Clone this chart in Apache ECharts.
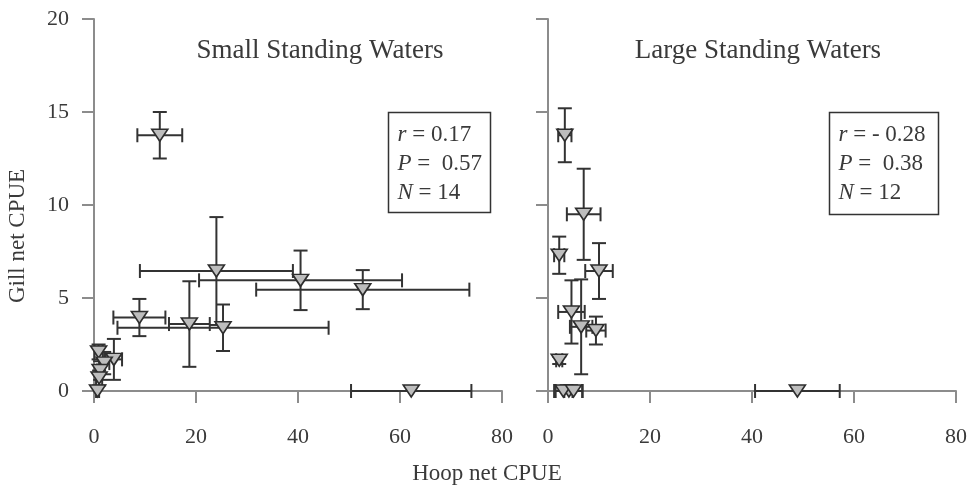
<!DOCTYPE html>
<html>
<head>
<meta charset="utf-8">
<script src="https://cdn.jsdelivr.net/npm/echarts@6/dist/echarts.min.js"></script>
<style>html,body{margin:0;padding:0;background:#fff}#c{width:971px;height:488px}</style>
</head>
<body>
<div id="c"></div>
<script>
// Small standing waters: hoop CPUE (x), gill CPUE (y), x error, y error
const smallX  = [12.9, 24.0, 40.5, 52.7, 8.9, 18.7, 25.3, 62.2, 0.9, 3.9, 2.0, 1.2, 1.0, 0.7];
const smallY  = [13.75, 6.45, 5.95, 5.45, 3.95, 3.6, 3.4, 0, 2.1, 1.7, 1.5, 1.1, 0.7, 0];
const smallXE = [4.4, 15.0, 19.9, 20.9, 5.1, 4.0, 20.7, 11.8, 0.8, 1.6, 1.0, 0.6, 0.6, 0.3];
const smallYE = [1.25, 2.9, 1.6, 1.05, 1.0, 2.3, 1.25, 0, 0.4, 1.1, 0.6, 0.5, 0.4, 0];
// Large standing waters
const largeX  = [3.3, 7.0, 2.2, 10.0, 4.6, 6.5, 9.4, 2.2, 4.1, 3.0, 5.0, 48.9];
const largeY  = [13.75, 9.5, 7.3, 6.45, 4.25, 3.45, 3.25, 1.65, 0, 0, 0, 0];
const largeXE = [1.3, 3.3, 1.0, 2.7, 2.6, 2.2, 1.9, 0.6, 2.6, 1.8, 1.8, 8.3];
const largeYE = [1.45, 2.45, 1.0, 1.5, 1.7, 2.55, 0.75, 0.2, 0, 0, 0, 0];
const xTicks = [0, 20, 40, 60, 80];
const yTicks = [0, 5, 10, 15, 20];
const panelTitles = ['Small Standing Waters', 'Large Standing Waters'];
const statsSmall = ['0.17', ' 0.57', '14'];
const statsLarge = ['- 0.28', ' 0.38', '12'];

const FONT = '"Liberation Serif", "DejaVu Serif", serif';
const TXT = '#3a3a3a';
const AX = '#8c8c8c';
const BAR = '#333333';

function rows(x, y, xe, ye) { return x.map((v, i) => [v, y[i], xe[i], ye[i]]); }

function errItem(params, api) {
  const x = api.value(0), y = api.value(1), xe = api.value(2), ye = api.value(3);
  const cap = 7;
  const st = { stroke: BAR, lineWidth: 2 };
  const ch = [];
  if (xe > 0) {
    const l = api.coord([x - xe, y]), r = api.coord([x + xe, y]);
    ch.push({ type: 'line', shape: { x1: l[0], y1: l[1], x2: r[0], y2: r[1] }, style: st });
    ch.push({ type: 'line', shape: { x1: l[0], y1: l[1] - cap, x2: l[0], y2: l[1] + cap }, style: st });
    ch.push({ type: 'line', shape: { x1: r[0], y1: r[1] - cap, x2: r[0], y2: r[1] + cap }, style: st });
  }
  if (ye > 0) {
    const t = api.coord([x, y + ye]), b = api.coord([x, y - ye]);
    ch.push({ type: 'line', shape: { x1: t[0], y1: t[1], x2: b[0], y2: b[1] }, style: st });
    ch.push({ type: 'line', shape: { x1: t[0] - cap, y1: t[1], x2: t[0] + cap, y2: t[1] }, style: st });
    ch.push({ type: 'line', shape: { x1: b[0] - cap, y1: b[1], x2: b[0] + cap, y2: b[1] }, style: st });
  }
  return { type: 'group', children: ch };
}

function xAx(i) {
  return {
    gridIndex: i, type: 'value', min: xTicks[0], max: xTicks[xTicks.length - 1], interval: xTicks[1] - xTicks[0],
    axisLine: { onZero: false, lineStyle: { color: AX, width: 2 } },
    axisTick: { length: 12, lineStyle: { color: AX, width: 2 } },
    axisLabel: { margin: 35, fontFamily: FONT, fontSize: 22, color: TXT },
    splitLine: { show: false }
  };
}
function yAx(i, labels) {
  return {
    gridIndex: i, type: 'value', min: yTicks[0], max: yTicks[yTicks.length - 1], interval: yTicks[1] - yTicks[0],
    axisLine: { show: true, onZero: false, lineStyle: { color: AX, width: 2 } },
    axisTick: { show: true, length: 12, lineStyle: { color: AX, width: 2 } },
    axisLabel: { show: labels, margin: 25, fontFamily: FONT, fontSize: 22, color: TXT },
    splitLine: { show: false }
  };
}
function scat(i, data) {
  return {
    type: 'scatter', xAxisIndex: i, yAxisIndex: i, data: data.map(d => [d[0], d[1]]),
    symbol: 'triangle', symbolRotate: 180, symbolSize: [16, 12], z: 5,
    itemStyle: { color: '#bdbdbd', borderColor: '#2e2e2e', borderWidth: 1.6, opacity: 1 },
    emphasis: { disabled: true }
  };
}
function errs(i, data) {
  return { type: 'custom', xAxisIndex: i, yAxisIndex: i, data: data, renderItem: errItem, z: 3, silent: true };
}

function statBox(left, top, w, h, vals) {
  const rich = { i: { fontStyle: 'italic', fontFamily: FONT, fontSize: 23, fill: TXT } };
  const names = ['r', 'P', 'N'];
  const ch = [{ type: 'rect', shape: { x: 0, y: 0, width: w, height: h }, style: { fill: 'none', stroke: '#333', lineWidth: 1.5 } }];
  names.forEach((n, k) => {
    ch.push({ type: 'text', x: 9, y: 22 + k * 29, style: { text: '{i|' + n + '} = ' + vals[k], rich: rich, font: '23px ' + FONT, fill: TXT, verticalAlign: 'middle' } });
  });
  return { type: 'group', left: left, top: top, children: ch };
}

const sData = rows(smallX, smallY, smallXE, smallYE);
const lData = rows(largeX, largeY, largeXE, largeYE);

const chart = echarts.init(document.getElementById('c'), null, { renderer: 'canvas' });
chart.setOption({
  animation: false,
  grid: [
    { left: 94, right: 469, top: 19, bottom: 97 },
    { left: 548, right: 15, top: 19, bottom: 97 }
  ],
  xAxis: [xAx(0), xAx(1)],
  yAxis: [yAx(0, true), yAx(1, false)],
  series: [errs(0, sData), scat(0, sData), errs(1, lData), scat(1, lData)],
  graphic: [
    { type: 'text', x: 320, y: 51, style: { text: panelTitles[0], font: '27px ' + FONT, fill: TXT, align: 'center', verticalAlign: 'middle' } },
    { type: 'text', x: 758, y: 51, style: { text: panelTitles[1], font: '27px ' + FONT, fill: TXT, align: 'center', verticalAlign: 'middle' } },
    { type: 'text', x: 487, y: 474, style: { text: 'Hoop net CPUE', font: '23px ' + FONT, fill: TXT, align: 'center', verticalAlign: 'middle' } },
    { type: 'text', x: 18, y: 236, rotation: Math.PI / 2, style: { text: 'Gill net CPUE', font: '23px ' + FONT, fill: TXT, align: 'center', verticalAlign: 'middle' } },
    statBox(386, 110, 102, 100, statsSmall),
    statBox(827, 110, 109, 102, statsLarge)
  ]
});
</script>
</body>
</html>
